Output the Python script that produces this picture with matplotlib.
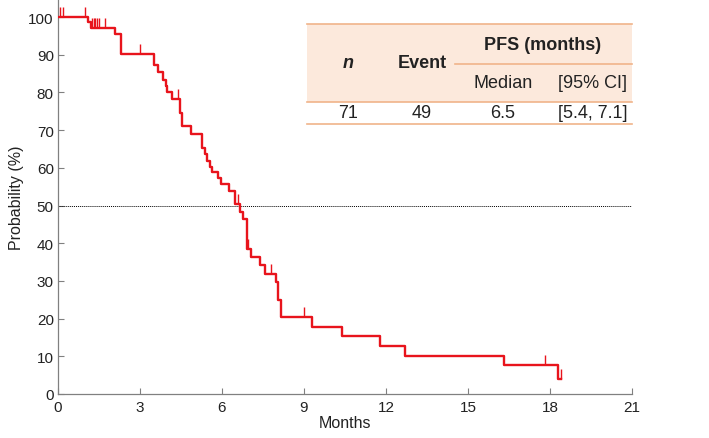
import matplotlib
matplotlib.use("Agg")
import matplotlib.pyplot as plt
from matplotlib.lines import Line2D
from matplotlib.patches import Rectangle

plt.rcParams['font.family'] = ['Liberation Sans', 'DejaVu Sans']

# Kaplan-Meier steps (months, probability %)
step_t = [0, 1.11, 1.2, 2.08, 2.3, 3.5, 3.67, 3.85, 3.94, 4.0, 4.18, 4.46, 4.55,
          4.85, 5.28, 5.36, 5.45, 5.55, 5.62, 5.87, 5.96, 6.27, 6.48, 6.66, 6.76,
          6.9, 7.05, 7.39, 7.57, 7.97, 8.06, 8.15, 9.3, 10.4, 11.78, 12.7, 16.3,
          18.3, 18.42]
step_s = [100, 98.6, 97.2, 95.5, 90.3, 87.3, 85.5, 83.2, 81.6, 80.0, 78.2, 74.6, 71.0,
          69.0, 65.4, 63.6, 61.9, 60.3, 58.8, 57.3, 55.8, 53.9, 50.3, 48.4, 46.5,
          38.5, 36.4, 34.2, 31.9, 29.6, 25.0, 20.3, 17.9, 15.3, 12.7, 10.2, 7.7,
          3.9, 3.9]

# censored observations
cens_t = [0.07, 0.2, 1.0, 1.23, 1.3, 1.37, 1.44, 1.5, 1.72, 3.0, 4.4, 6.6,
          6.95, 7.78, 9.0, 17.8, 18.42]
cens_s = [100, 100, 100, 97.2, 97.2, 97.2, 97.2, 97.2, 97.2, 90.3, 78.2, 50.3,
          38.5, 31.9, 20.3, 7.7, 3.9]

xticks = [0, 3, 6, 9, 12, 15, 18, 21]
yticks = [0, 10, 20, 30, 40, 50, 60, 70, 80, 90, 100]

header = ["n", "Event", "PFS (months)", "Median", "[95% CI]"]
row = ["71", "49", "6.5", "[5.4, 7.1]"]

W, H = 709, 439
fig = plt.figure(figsize=(W / 100, H / 100), dpi=100)
ax = fig.add_axes([58 / W, 1 - 395 / H, (632 - 58) / W, 395 / H])

red = "#e8141c"
ax.step(step_t, step_s, where="post", color=red, lw=1.7, zorder=3)
ax.plot(cens_t, cens_s, ls="none", marker=2, ms=7.5, mew=1.0, color=red, zorder=3)
ax.plot([0, 21], [50, 50], color="black", lw=0.7, ls=(0, (1, 1)), zorder=2)

ax.set_xlim(0, 21)
ax.set_ylim(0, 104.8)
ax.set_xticks(xticks)
ax.set_yticks(yticks)
for s in ["top", "right"]:
    ax.spines[s].set_visible(False)
for s in ["left", "bottom"]:
    ax.spines[s].set_color("#808080")
    ax.spines[s].set_linewidth(0.9)
ax.tick_params(direction="in", length=4, width=0.8, color="#808080",
               labelsize=11, labelcolor="#222222")
ax.tick_params(axis="x", pad=4)
ax.tick_params(axis="y", pad=3)
ax.set_xlabel("Months", fontsize=11.5, labelpad=1, color="#222222")
ax.set_ylabel("Probability (%)", fontsize=11.5, labelpad=3, color="#222222")


# table in pixel coordinates
def fx(px):
    return px / W


def fy(py):
    return 1 - py / H


orange = "#f0b48a"
fig.add_artist(Rectangle((fx(307), fy(103)), fx(632) - fx(307), fy(25) - fy(103),
                         transform=fig.transFigure, facecolor="#fce9dc",
                         edgecolor="none", zorder=1))
for x0, x1, y in [(307, 632, 25), (455, 632, 65), (307, 632, 103), (307, 632, 125)]:
    fig.add_artist(Line2D([fx(x0), fx(x1)], [fy(y), fy(y)], transform=fig.transFigure,
                          color=orange, lw=1.2, zorder=2))

tk = dict(ha="center", va="center", fontsize=13, color="#222222", zorder=3)
fig.text(fx(348), fy(63), header[0], fontweight="bold", style="italic", **tk)
fig.text(fx(422), fy(63), header[1], fontweight="bold", **tk)
fig.text(fx(543), fy(45), header[2], fontweight="bold", **tk)
fig.text(fx(503), fy(84), header[3], **tk)
fig.text(fx(593), fy(84), header[4], **tk)
for x, t in zip([348, 422, 503, 593], row):
    fig.text(fx(x), fy(114), t, **tk)

fig.savefig("out.png", dpi=100)
